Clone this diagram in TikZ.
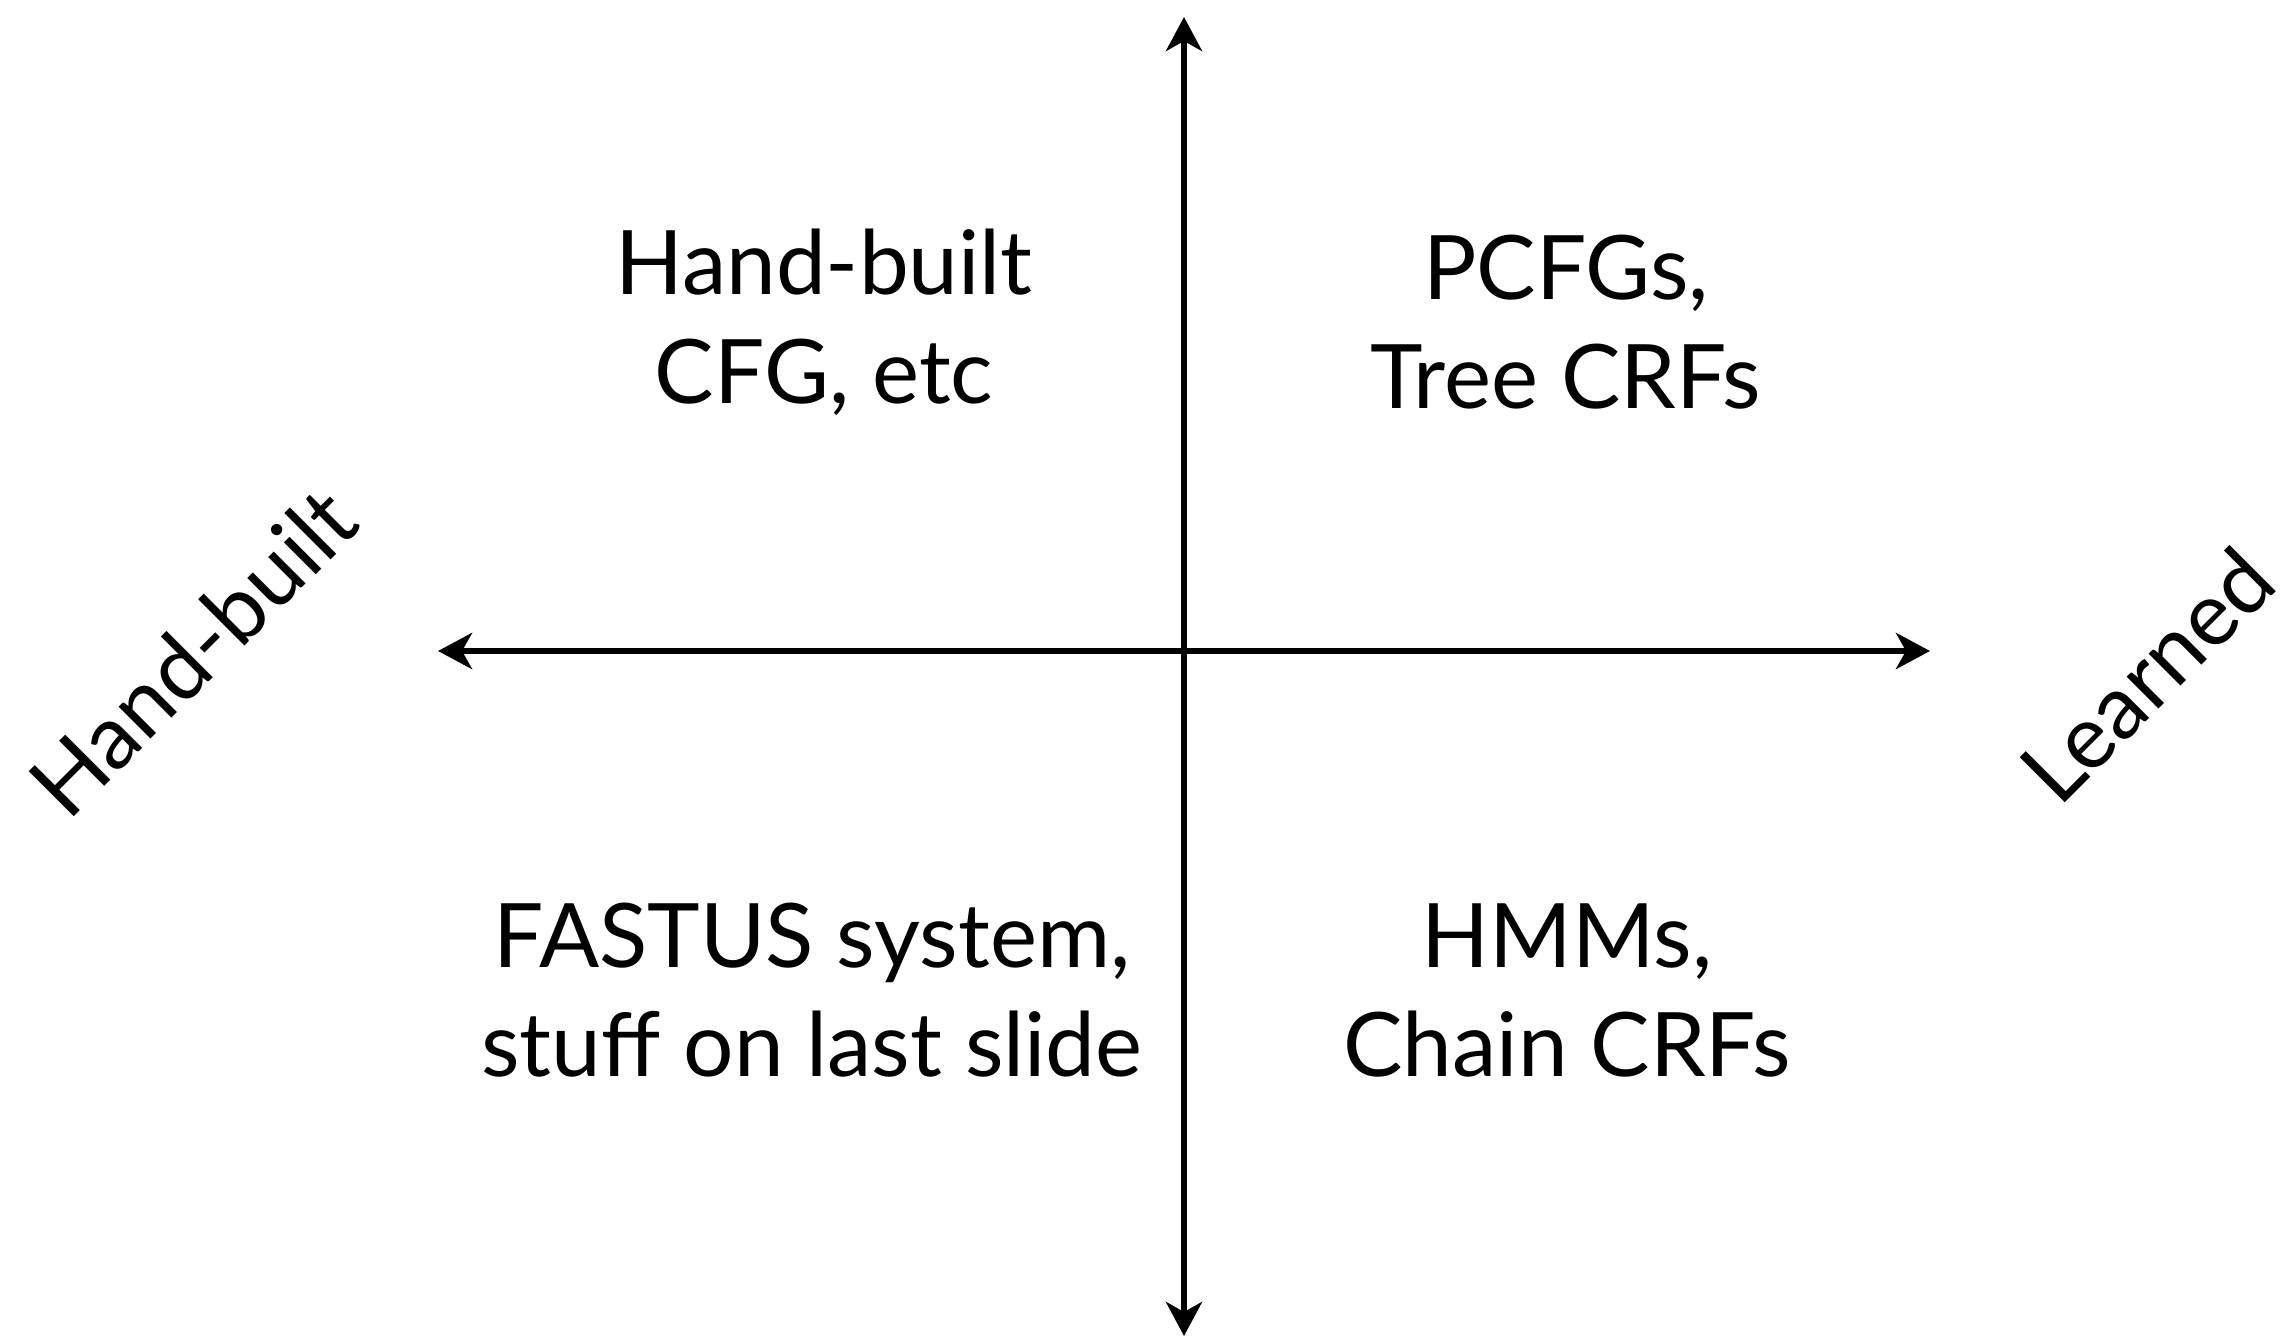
\documentclass[tikz,border=0pt]{standalone}
\usepackage{fontspec}
\setmainfont{Lato}
\usetikzlibrary{arrows.meta}
\begin{document}
\begin{tikzpicture}[x=0.5pt,y=-0.5pt,
  axis/.style={line width=3.3pt,
    arrows={Stealth[length=17pt,width=18pt,inset=5pt]-Stealth[length=17pt,width=18pt,inset=5pt]}},
  quad/.style={align=center,font=\fontsize{44.5}{54.5}\selectfont,inner sep=0pt},
  side/.style={font=\fontsize{44.5}{54.5}\selectfont,inner sep=0pt,rotate=45}]
\useasboundingbox (0,0) rectangle (2296,1337);
% axes
\coordinate (top) at (1184,17);
\coordinate (bottom) at (1184,1336);
\coordinate (left) at (438,651);
\coordinate (right) at (1930,651);
\draw[axis] (bottom) -- (top);
\draw[axis] (left) -- (right);
% quadrant contents
\node[quad] (hb) at (824,322) {Hand-built\\CFG, etc};
\node[quad] (pcfg) at (1566,322) {PCFGs,\\Tree CRFs};
\node[quad] (fastus) at (812,990) {FASTUS system,\\stuff on last slide};
\node[quad] (hmm) at (1567,990) {HMMs,\\Chain CRFs};
% axis end labels
\node[side] (handbuilt) at (193,652) {Hand-built};
\node[side] (learned) at (2147,675) {Learned};
\end{tikzpicture}
\end{document}
